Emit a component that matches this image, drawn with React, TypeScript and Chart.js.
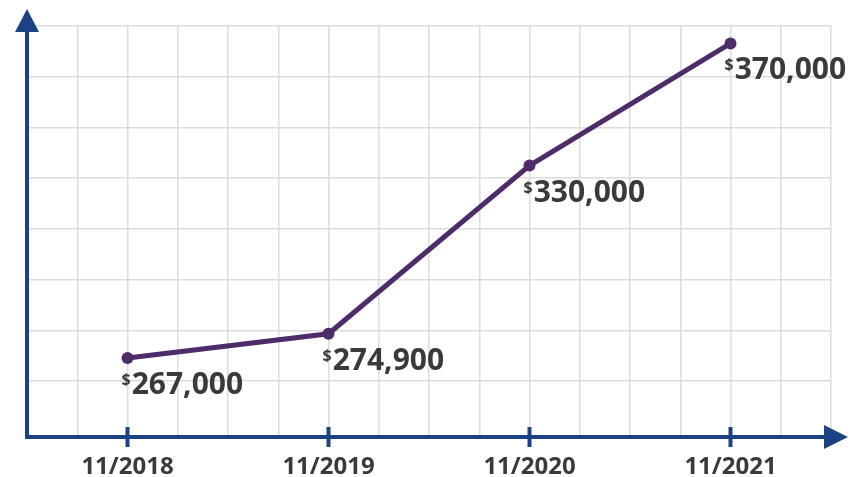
import React, { useEffect, useRef } from "react";
import { Chart, registerables } from "chart.js";

Chart.register(...registerables);

const categories = ["11/2018", "11/2019", "11/2020", "11/2021"];
const prices = [267000, 274900, 330000, 370000];
const currencySymbol = "$";

const NAVY = "#1b4383";
const PURPLE = "#4d2c69";
const TEXT = "#3a3a3a";
const GRID = "#dcdcdc";
const FONT = "'Open Sans', 'Noto Sans', sans-serif";

const decorPlugin = {
  id: "decor",
  afterDatasetsDraw(chart: any) {
    const ctx = chart.ctx;
    const area = chart.chartArea;
    const xs = chart.scales.x;
    ctx.save();
    ctx.strokeStyle = NAVY;
    ctx.fillStyle = NAVY;
    ctx.lineWidth = 4;
    ctx.lineCap = "butt";
    ctx.beginPath();
    ctx.moveTo(area.left, area.bottom + 2);
    ctx.lineTo(area.left, 30);
    ctx.stroke();
    ctx.beginPath();
    ctx.moveTo(area.left - 2, area.bottom);
    ctx.lineTo(826, area.bottom);
    ctx.stroke();
    ctx.beginPath();
    ctx.moveTo(area.left, 9);
    ctx.lineTo(area.left - 12, 32);
    ctx.lineTo(area.left + 12, 32);
    ctx.closePath();
    ctx.fill();
    ctx.beginPath();
    ctx.moveTo(848, area.bottom);
    ctx.lineTo(824, area.bottom - 12);
    ctx.lineTo(824, area.bottom + 12);
    ctx.closePath();
    ctx.fill();
    ctx.lineWidth = 4;
    categories.forEach((_, i) => {
      const px = xs.getPixelForTick(i);
      ctx.beginPath();
      ctx.moveTo(px, area.bottom - 10);
      ctx.lineTo(px, area.bottom + 10);
      ctx.stroke();
    });
    const meta = chart.getDatasetMeta(0);
    ctx.fillStyle = TEXT;
    ctx.textBaseline = "alphabetic";
    ctx.textAlign = "left";
    meta.data.forEach((pt: any, i: number) => {
      const x0 = pt.x - 6;
      const top = pt.y + 15;
      ctx.font = `bold 16px ${FONT}`;
      ctx.fillText(currencySymbol, x0, top + 12);
      const w = ctx.measureText(currencySymbol).width;
      ctx.font = `bold 30px ${FONT}`;
      ctx.fillText(prices[i].toLocaleString("en-US"), x0 + w + 1, top + 21);
    });
    ctx.restore();
  },
};

export default function App() {
  const ref = useRef<HTMLCanvasElement>(null);
  useEffect(() => {
    if (!ref.current) return;
    const chart = new Chart(ref.current, {
      type: "line",
      data: {
        labels: categories,
        datasets: [
          {
            data: prices,
            borderColor: PURPLE,
            backgroundColor: PURPLE,
            borderWidth: 5,
            pointRadius: 6,
            pointBackgroundColor: PURPLE,
            pointBorderWidth: 0,
            tension: 0,
            clip: false as any,
          },
        ],
      },
      options: {
        responsive: false,
        animation: false,
        layout: { padding: { left: 27, right: 25, top: 26, bottom: 0 } },
        plugins: { legend: { display: false }, tooltip: { enabled: false } },
        scales: {
          x: {
            type: "category",
            offset: true,
            position: "bottom",
            grid: { display: false, drawTicks: false },
            border: { display: false },
            ticks: {
              color: TEXT,
              padding: 18,
              font: { family: FONT, size: 24, weight: "bold", lineHeight: 1 },
            },
            afterFit: (s: any) => {
              s.height = 40;
            },
          },
          xg: {
            type: "linear",
            position: "bottom",
            min: 0,
            max: 16,
            grid: { color: GRID, lineWidth: 1.5, drawTicks: false },
            border: { display: false },
            ticks: { display: false, stepSize: 1 },
            afterFit: (s: any) => {
              s.height = 0;
            },
          },
          y: {
            type: "linear",
            display: false,
            min: 241100,
            max: 375700,
          },
          yg: {
            type: "linear",
            position: "left",
            min: -0.1,
            max: 8,
            grid: { color: GRID, lineWidth: 1.5, drawTicks: false },
            border: { display: false },
            ticks: { display: false, stepSize: 1 },
            afterFit: (s: any) => {
              s.width = 0;
            },
          },
        },
      } as any,
      plugins: [decorPlugin],
    });
    return () => chart.destroy();
  }, []);
  return (
    <div style={{ position: "fixed", left: 0, top: 0, width: 856, height: 477, background: "#fff" }}>
      <canvas ref={ref} width={856} height={477} />
    </div>
  );
}
